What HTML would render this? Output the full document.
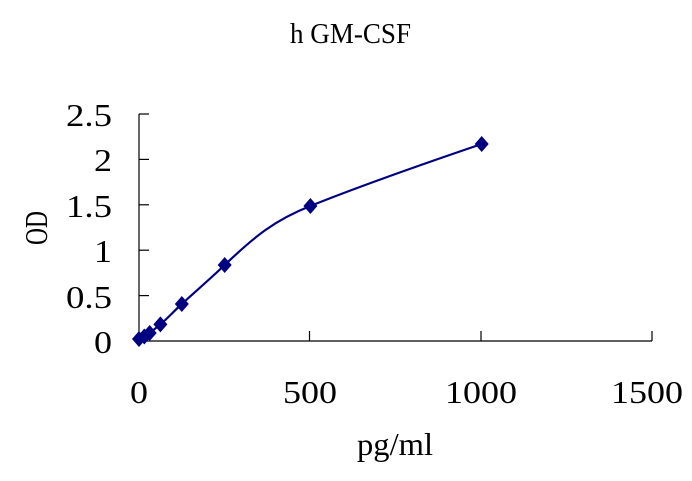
<!DOCTYPE html>
<html><head><style>
html,body{margin:0;padding:0;background:#fff;}
svg text{font-family:"Liberation Serif","Noto Serif CJK SC",serif;fill:#000;}
</style></head><body>
<svg width="692" height="476" xmlns="http://www.w3.org/2000/svg">
<text x="290" y="43" font-size="29" textLength="121" lengthAdjust="spacingAndGlyphs">h GM-CSF</text>
<g stroke="#000" stroke-width="1.2" fill="none">
<line x1="139" y1="114" x2="139" y2="341"/>
<line x1="139" y1="341" x2="652" y2="341"/>
<line x1="139" y1="114" x2="149" y2="114"/>
<line x1="139" y1="159.4" x2="149" y2="159.4"/>
<line x1="139" y1="204.8" x2="149" y2="204.8"/>
<line x1="139" y1="250.2" x2="149" y2="250.2"/>
<line x1="139" y1="295.6" x2="149" y2="295.6"/>
<line x1="309.5" y1="331" x2="309.5" y2="341"/>
<line x1="481" y1="331" x2="481" y2="341"/>
<line x1="652" y1="331" x2="652" y2="341"/>
</g>
<g font-size="32">
<text x="66" y="126" textLength="46" lengthAdjust="spacingAndGlyphs">2.5</text>
<text x="94" y="171" textLength="18" lengthAdjust="spacingAndGlyphs">2</text>
<text x="66" y="217" textLength="46" lengthAdjust="spacingAndGlyphs">1.5</text>
<text x="94" y="262" textLength="18" lengthAdjust="spacingAndGlyphs">1</text>
<text x="66" y="308" textLength="46" lengthAdjust="spacingAndGlyphs">0.5</text>
<text x="94" y="353" textLength="18" lengthAdjust="spacingAndGlyphs">0</text>
<text x="130" y="403" textLength="18" lengthAdjust="spacingAndGlyphs">0</text>
<text x="283" y="403" textLength="54" lengthAdjust="spacingAndGlyphs">500</text>
<text x="445" y="403" textLength="72" lengthAdjust="spacingAndGlyphs">1000</text>
<text x="611" y="403" textLength="72" lengthAdjust="spacingAndGlyphs">1500</text>
<text x="357" y="455" textLength="76" lengthAdjust="spacingAndGlyphs">pg/ml</text>
</g>
<text font-size="32" transform="translate(47,245) rotate(-90)" textLength="34" lengthAdjust="spacingAndGlyphs">OD</text>
<path d="M139,339 L144.3,336.5 L149.7,333 L160.4,324.4 C170,316 174,311 181.8,304 C196,291 210,279 224.7,265 C255,236 275,220 310.4,206 C360,186 420,165 481.7,144" stroke="#000080" stroke-width="2.2" fill="none"/>
<g fill="#000080">
<path d="M139,331 l7,8 l-7,8 l-7,-8z"/>
<path d="M144.3,328.5 l7,8 l-7,8 l-7,-8z"/>
<path d="M149.7,325 l7,8 l-7,8 l-7,-8z"/>
<path d="M160.4,316.4 l7,8 l-7,8 l-7,-8z"/>
<path d="M181.8,296 l7,8 l-7,8 l-7,-8z"/>
<path d="M224.7,257 l7,8 l-7,8 l-7,-8z"/>
<path d="M310.4,198 l7,8 l-7,8 l-7,-8z"/>
<path d="M481.7,136 l7,8 l-7,8 l-7,-8z"/>
</g>
</svg>
</body></html>
